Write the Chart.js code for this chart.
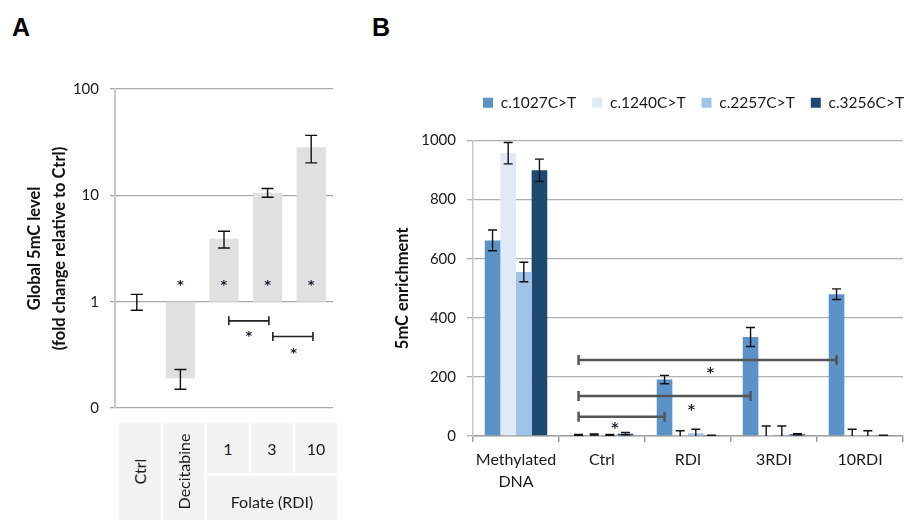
<!DOCTYPE html>
<html>
<head>
<meta charset="utf-8">
<script src="https://cdn.jsdelivr.net/npm/chart.js@4.4.0/dist/chart.umd.min.js"></script>
<style>
html,body{margin:0;padding:0;background:#fff;width:909px;height:520px;overflow:hidden;position:relative;font-family:Lato,'Noto Sans',sans-serif;}
.panel{position:absolute;font-family:'Liberation Sans',Arial,sans-serif;font-weight:bold;font-size:25px;line-height:25px;color:#000;}
#cA{position:absolute;left:0;top:0;}
#cB{position:absolute;left:370px;top:0;}
#tableA{position:absolute;left:0;top:0;}
.cell{position:absolute;background:#f2f2f2;color:#1a1a1a;font-size:16px;display:flex;align-items:center;justify-content:center;}
.rot{transform:rotate(-90deg);white-space:nowrap;}
</style>
</head>
<body>
<div class="panel" style="left:12px;top:15px">A</div>
<div class="panel" style="left:372px;top:15px">B</div>
<canvas id="cA" width="350" height="428"></canvas>
<div id="tableA"></div>
<canvas id="cB" width="539" height="520"></canvas>
<script>
// ---------- Panel A data ----------
const categoriesA = ['Ctrl', 'Decitabine', '1', '3', '10'];
const groupLabelA = 'Folate (RDI)';
const foldChange = [1, 0.19, 3.9, 10.6, 28.4];
const foldChangeErr = [0.17, 0.04, 0.7, 1.0, 8.2];
const baselineA = 1;
const ticksA = [0.1, 1, 10, 100];
const tickLabelsA = ['0', '1', '10', '100'];
const starCatsA = [1, 2, 3, 4];
const starLevelA = 1.54;
const bracketsA = [
  {from: 2.11, to: 3.03, y: 0.66, sx: 2.57, sy: 0.51},
  {from: 3.12, to: 4.04, y: 0.47, sx: 3.6, sy: 0.353}
];

// ---------- Panel B data ----------
const categoriesB = [['Methylated', 'DNA'], 'Ctrl', 'RDI', '3RDI', '10RDI'];
const seriesNames = ['c.1027C>T', 'c.1240C>T', 'c.2257C>T', 'c.3256C>T'];
const v1027 = [662, 3, 191, 335, 480];
const e1027 = [35, 2, 14, 32, 18];
const v1240 = [957, 5, 3, 2, 2];
const e1240 = [36, 2, 15, 32, 21];
const v2257 = [555, 3, 9, 4, 3];
const e2257 = [33, 2, 14, 30, 15];
const v3256 = [899, 8, 2, 6, 2];
const e3256 = [38, 4, 1, 2, 1];
const ticksB = [0, 200, 400, 600, 800, 1000];
const bracketsB = [
  {from: 1, to: 2, y: 65, sx: 1.15, sy: 40},
  {from: 1, to: 3, y: 135, sx: 2.04, sy: 102},
  {from: 1, to: 4, y: 257, sx: 2.26, sy: 226}
];

Chart.defaults.font.family = 'Lato';

// table under panel A
(function () {
  const cells = [
    {l: 119, t: 423, w: 42, h: 97, rot: true},
    {l: 163, t: 423, w: 41, h: 97, rot: true},
    {l: 207, t: 423, w: 42, h: 50},
    {l: 251, t: 423, w: 42, h: 50},
    {l: 295, t: 423, w: 42, h: 50}
  ];
  const host = document.getElementById('tableA');
  categoriesA.forEach((txt, i) => {
    const c = cells[i];
    const d = document.createElement('div');
    d.className = 'cell';
    d.style.cssText = `left:${c.l}px;top:${c.t}px;width:${c.w}px;height:${c.h}px;`;
    const s = document.createElement('span');
    if (c.rot) s.className = 'rot';
    s.textContent = txt;
    d.appendChild(s);
    host.appendChild(d);
  });
  const g = document.createElement('div');
  g.className = 'cell';
  g.style.cssText = 'left:207px;top:476px;width:130px;height:44px;padding-top:6px;box-sizing:border-box;';
  g.textContent = groupLabelA;
  host.appendChild(g);
})();

const errorBarPlugin = {
  id: 'errorBars',
  afterDatasetsDraw(chart, args, opts) {
    const {ctx, chartArea} = chart;
    const ys = chart.scales.y;
    ctx.save();
    ctx.beginPath();
    ctx.rect(0, 0, chart.width, chartArea.bottom);
    ctx.clip();
    ctx.strokeStyle = opts.color;
    ctx.lineWidth = opts.width;
    chart.data.datasets.forEach((ds, di) => {
      if (!ds.errors) return;
      const meta = chart.getDatasetMeta(di);
      meta.data.forEach((bar, i) => {
        const c = ds.errorCenters ? ds.errorCenters[i] : ds.data[i];
        const e = ds.errors[i];
        const yHi = ys.getPixelForValue(c + e);
        const yLo = ys.getPixelForValue(c - e);
        const x = bar.x, w = opts.cap / 2;
        ctx.beginPath();
        ctx.moveTo(x, yHi); ctx.lineTo(x, yLo);
        ctx.moveTo(x - w, yHi); ctx.lineTo(x + w, yHi);
        ctx.moveTo(x - w, yLo); ctx.lineTo(x + w, yLo);
        ctx.stroke();
      });
    });
    ctx.restore();
  }
};

const sigPlugin = {
  id: 'sig',
  afterDatasetsDraw(chart, args, opts) {
    const xs = chart.scales.x, ys = chart.scales.y, ctx = chart.ctx;
    const xOf = (v) => {
      if (opts.anchor != null && Number.isInteger(v)) return chart.getDatasetMeta(opts.anchor).data[v].x;
      return xs.getPixelForValue(v);
    };
    ctx.save();
    ctx.strokeStyle = opts.lineColor;
    ctx.lineWidth = opts.lineWidth;
    const drawStar = (x, y) => {
      ctx.fillStyle = opts.starColor;
      ctx.font = `bold ${opts.starSize}px "DejaVu Sans"`;
      ctx.textAlign = 'center';
      ctx.textBaseline = 'alphabetic';
      ctx.fillText('*', x, y + opts.starSize * 0.58);
    };
    (opts.brackets || []).forEach(b => {
      const x1 = xOf(b.from), x2 = xOf(b.to), y = ys.getPixelForValue(b.y);
      const h = opts.capH / 2;
      ctx.beginPath();
      ctx.moveTo(x1, y); ctx.lineTo(x2, y);
      ctx.moveTo(x1, y - h); ctx.lineTo(x1, y + h);
      ctx.moveTo(x2, y - h); ctx.lineTo(x2, y + h);
      ctx.stroke();
      drawStar(xs.getPixelForValue(b.sx), ys.getPixelForValue(b.sy));
    });
    (opts.stars || []).forEach(s => drawStar(xs.getPixelForValue(s.x), ys.getPixelForValue(s.y)));
    ctx.restore();
  }
};

// ---------- Chart A ----------
new Chart(document.getElementById('cA'), {
  type: 'bar',
  data: {
    labels: categoriesA,
    datasets: [{
      data: foldChange.map(v => [baselineA, v]),
      errorCenters: foldChange,
      errors: foldChangeErr,
      backgroundColor: '#e0e0e0',
      borderWidth: 0,
      barPercentage: 0.67,
      categoryPercentage: 1
    }]
  },
  options: {
    responsive: false,
    animation: false,
    events: [],
    layout: {padding: {top: 89, right: 17, bottom: 4, left: 0}},
    plugins: {
      legend: {display: false},
      tooltip: {enabled: false},
      errorBars: {color: '#111', width: 1.4, cap: 12},
      sig: {
        lineColor: '#222', lineWidth: 1.6, capH: 9, starColor: '#1a1a30', starSize: 13,
        brackets: bracketsA,
        stars: starCatsA.map(c => ({x: c, y: starLevelA}))
      }
    },
    scales: {
      x: {display: false},
      y: {
        type: 'logarithmic',
        min: ticksA[0],
        max: ticksA[ticksA.length - 1],
        afterBuildTicks(s) { s.ticks = ticksA.map(v => ({value: v})); },
        afterFit(s) { s.width = 115; },
        ticks: {
          callback: (v, i) => tickLabelsA[i],
          color: '#1a1a1a',
          font: {size: 15},
          padding: 11
        },
        grid: {color: '#a8a8a8', lineWidth: 1.3, tickLength: 5, tickColor: '#a8a8a8'},
        border: {color: '#c8c8c8', width: 2},
        title: {
          display: true,
          text: ['Global 5mC level', '(fold change relative to Ctrl)'],
          color: '#111',
          font: {size: 16.5, weight: 'bold', lineHeight: 1.515},
          padding: {top: 22.5, bottom: 0}
        }
      }
    }
  },
  plugins: [errorBarPlugin, sigPlugin]
});

// ---------- Chart B ----------
const legendShiftPlugin = {
  id: 'legendShift',
  afterLayout(chart, args, opts) {
    const lg = chart.legend;
    if (!lg) return;
    const dx = chart.chartArea.left + opts.indent - (lg.left + lg.options.labels.padding);
    lg.left += dx; lg.right += dx;
    lg.top += opts.dy; lg.bottom += opts.dy;
  }
};

const colorsB = ['#5b93c8', '#e1e9f4', '#a2c3e8', '#1e4a72'];
const valuesB = [v1027, v1240, v2257, v3256];
const errorsB = [e1027, e1240, e2257, e3256];

new Chart(document.getElementById('cB'), {
  type: 'bar',
  data: {
    labels: categoriesB,
    datasets: seriesNames.map((name, i) => ({
      label: name,
      data: valuesB[i],
      errors: errorsB[i],
      backgroundColor: colorsB[i],
      borderWidth: 0,
      barPercentage: 1,
      categoryPercentage: 0.727
    }))
  },
  options: {
    responsive: false,
    animation: false,
    events: [],
    layout: {padding: {top: 99, right: 6, bottom: 0, left: 0}},
    plugins: {
      legend: {
        position: 'top',
        align: 'start',
        labels: {boxWidth: 10, boxHeight: 10, padding: 16, color: '#1a1a1a', font: {size: 15.5}}
      },
      legendShift: {indent: 10, dy: -20},
      tooltip: {enabled: false},
      errorBars: {color: '#111', width: 1.4, cap: 9},
      sig: {
        anchor: 0,
        lineColor: '#555', lineWidth: 2.5, capH: 10, starColor: '#1a1a30', starSize: 14,
        brackets: bracketsB
      }
    },
    scales: {
      x: {
        afterFit(s) { s.height = 84; },
        ticks: {color: '#1a1a1a', font: {size: 16, lineHeight: 1.36}, padding: 7, maxRotation: 0, minRotation: 0, autoSkip: false},
        grid: {drawOnChartArea: false, tickLength: 6, color: '#a0a0a0', lineWidth: 1.5},
        border: {color: '#a0a0a0', width: 1.5}
      },
      y: {
        min: ticksB[0],
        max: ticksB[ticksB.length - 1],
        afterBuildTicks(s) { s.ticks = ticksB.map(v => ({value: v})); },
        afterFit(s) { s.width = 103; },
        ticks: {callback: (v) => String(v), color: '#1a1a1a', font: {size: 15}, padding: 11},
        grid: {color: '#b0b0b0', lineWidth: 1.3, tickLength: 6},
        border: {color: '#c4c4c4', width: 1.5},
        title: {
          display: true,
          text: '5mC enrichment',
          color: '#111',
          font: {size: 16.5, weight: 'bold', lineHeight: 1.2},
          padding: {top: 23, bottom: 0}
        }
      }
    }
  },
  plugins: [errorBarPlugin, sigPlugin, legendShiftPlugin]
});
</script>
</body>
</html>
